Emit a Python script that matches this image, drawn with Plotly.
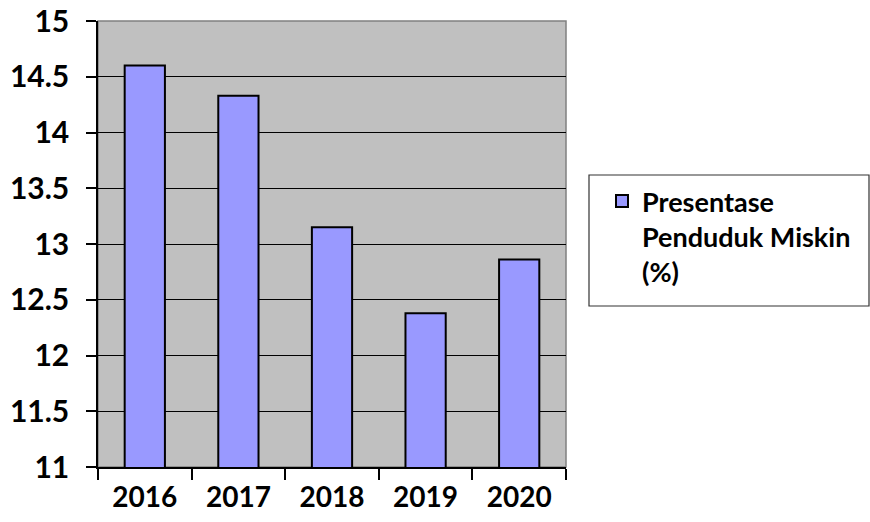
import plotly.graph_objects as go

years = ["2016", "2017", "2018", "2019", "2020"]
values = [14.60, 14.33, 13.15, 12.38, 12.86]
series_name = "Presentase<br>Penduduk Miskin<br>(%)"

W, H = 870, 522
L, R, T, B = 98, 566, 21, 467
pw, ph = R - L, B - T

def px(x):
    return (x - L) / pw

def py(y):
    return (B - y) / ph

fig = go.Figure()
fig.add_trace(go.Bar(
    x=years, y=values, name=series_name,
    marker=dict(color="#9999FF", line=dict(color="black", width=2)),
    showlegend=True,
))

font_family = "Lato, 'Open Sans', sans-serif"

fig.update_layout(
    width=W, height=H,
    margin=dict(l=L, r=W - R, t=T, b=H - B, pad=0, autoexpand=False),
    paper_bgcolor="white",
    plot_bgcolor="#C0C0C0",
    bargap=0.57,
    font=dict(family=font_family, color="black", size=25, weight=700),
    xaxis=dict(
        type="category",
        automargin=False,
        showgrid=False,
        showline=True, linecolor="black", linewidth=1.5,
        ticks="outside", tickson="boundaries", ticklen=11, tickcolor="black", tickwidth=1.5,
        ticklabelstandoff=5,
        tickfont=dict(size=28, family=font_family, weight=700, color="black"),
        fixedrange=True,
    ),
    yaxis=dict(
        range=[11, 15], dtick=0.5, tick0=11,
        automargin=False,
        showgrid=True, gridcolor="black", gridwidth=1,
        showline=True, linecolor="black", linewidth=1.5,
        ticks="outside", ticklen=10, tickcolor="black", tickwidth=1.5,
        ticklabelstandoff=11,
        tickfont=dict(size=30, family=font_family, weight=700, color="black"),
        zeroline=False,
        fixedrange=True,
    ),
    showlegend=True,
    legend=dict(
        x=px(602), y=py(177), xanchor="left", yanchor="top",
        bgcolor="rgba(0,0,0,0)", borderwidth=0,
        valign="top",
        font=dict(size=27, family=font_family, weight=700, color="black"),
    ),
    shapes=[
        dict(type="rect", xref="paper", yref="paper", x0=0, x1=1, y0=0, y1=1,
             line=dict(color="#808080", width=1.5), layer="below"),
        dict(type="rect", xref="paper", yref="paper",
             x0=px(589), x1=px(869), y0=py(306), y1=py(175),
             line=dict(color="#333333", width=1.2), fillcolor="rgba(0,0,0,0)"),
    ],
)

fig.write_html("out.html")
